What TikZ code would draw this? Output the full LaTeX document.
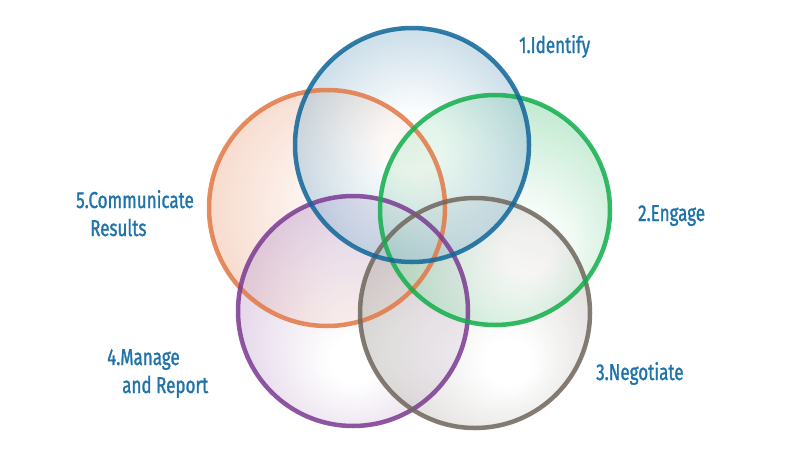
\documentclass[tikz,border=0pt]{standalone}
\usepackage{fontspec}
\setmainfont{Fira Sans}[FakeStretch=0.74,FakeBold=1.2]
\definecolor{cblue}{HTML}{0F6699}
\definecolor{cgreen}{HTML}{12AE4C}
\definecolor{cgray}{HTML}{6E665C}
\definecolor{cpurple}{HTML}{7B3A92}
\definecolor{corange}{HTML}{E27845}
\definecolor{ctext}{HTML}{1F73A9}
\pgfdeclareradialshading{shblue}{\pgfpoint{0bp}{0bp}}{color(0bp)=(white); color(6bp)=(white); color(50bp)=(cblue!90!white)}
\pgfdeclareradialshading{shgreen}{\pgfpoint{8bp}{-10bp}}{color(0bp)=(white); color(5bp)=(white); color(50bp)=(cgreen!90!white)}
\pgfdeclareradialshading{shgray}{\pgfpoint{8bp}{-12bp}}{color(0bp)=(white); color(5bp)=(white); color(50bp)=(cgray!90!white)}
\pgfdeclareradialshading{shpurple}{\pgfpoint{0bp}{-12bp}}{color(0bp)=(white); color(5bp)=(white); color(50bp)=(cpurple!80!white)}
\pgfdeclareradialshading{shorange}{\pgfpoint{10bp}{0bp}}{color(0bp)=(white); color(5bp)=(white); color(50bp)=(corange!90!white)}
\tikzset{
  vennfill/.style={circle, inner sep=0pt, outer sep=0pt, fill opacity=0.55},
  vennring/.style={circle, inner sep=0pt, outer sep=0pt, line width=4.5pt, draw opacity=0.85},
  lbl/.style={anchor=base west, inner sep=0pt, text=ctext, font=\fontsize{23}{27}\selectfont}
}
\begin{document}
\begin{tikzpicture}[x=1pt,y=-1pt]
\useasboundingbox (0,0) rectangle (800,450);
\node[vennfill, minimum size=236pt, shading=shorange] (c5) at (327,208) {};
\node[vennfill, minimum size=230pt, shading=shpurple] (c4) at (353,311) {};
\node[vennfill, minimum size=230pt, shading=shgray] (c3) at (475,313) {};
\node[vennfill, minimum size=230pt, shading=shgreen] (c2) at (495,210) {};
\node[vennfill, minimum size=234pt, shading=shblue] (c1) at (412,145) {};
\node[vennring, minimum size=236pt, draw=corange] (r5) at (c5) {};
\node[vennring, minimum size=230pt, draw=cpurple] (r4) at (c4) {};
\node[vennring, minimum size=230pt, draw=cgray] (r3) at (c3) {};
\node[vennring, minimum size=230pt, draw=cgreen] (r2) at (c2) {};
\node[vennring, minimum size=234pt, draw=cblue] (r1) at (c1) {};
\node[lbl] (l1) at (519,53) {1.Identify};
\node[lbl] (l2) at (638,221) {2.Engage};
\node[lbl] (l3) at (596,380) {3.Negotiate};
\node[lbl] (l4a) at (107,365) {4.Manage};
\node[lbl] (l4b) at (122,393) {and Report};
\node[lbl] (l5a) at (76,208) {5.Communicate};
\node[lbl] (l5b) at (90,236) {Results};
\end{tikzpicture}
\end{document}
